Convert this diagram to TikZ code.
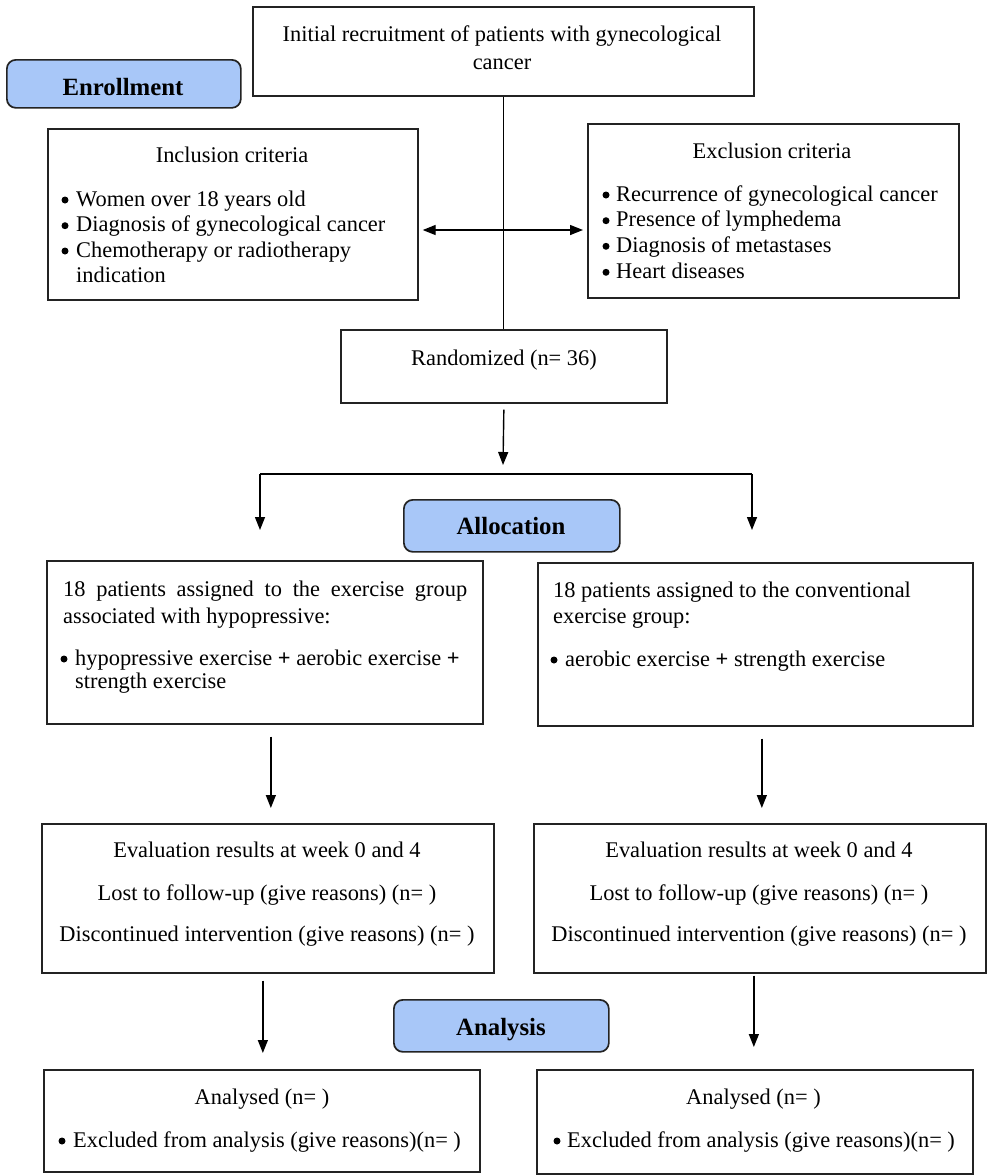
\documentclass[tikz,border=0pt]{standalone}
\usepackage{fontspec}
\setmainfont{Liberation Serif}
\usetikzlibrary{arrows.meta}
\definecolor{hdrblue}{RGB}{168,199,248}
\definecolor{edgec}{RGB}{35,35,35}
\begin{document}
\begin{tikzpicture}[x=1pt,y=-1pt,
  box/.style={draw=edgec, line width=1.7pt, rectangle, anchor=north west, inner sep=0pt},
  hdr/.style={draw=edgec, line width=1.7pt, fill=hdrblue, rounded corners=9pt, anchor=north west, inner sep=0pt},
  txt/.style={inner sep=0pt, font=\fontsize{22.4}{25.5}\selectfont},
  btxt/.style={inner sep=0pt, font=\fontsize{24.8}{26}\selectfont\bfseries},
  bul/.style={circle, fill=black, draw=none, inner sep=0pt, minimum size=7pt},
  conn/.style={line width=1.4pt, draw=black},
  arr/.style={conn, -{Triangle[length=13pt,width=10pt]}},
  darr/.style={conn, {Triangle[length=13pt,width=10pt]}-{Triangle[length=13pt,width=10pt]}},
]
\useasboundingbox[fill=white] (0,0) rectangle (990,1176);

% ---------- boxes ----------
\node[box, minimum width=501pt, minimum height=89pt] (init) at (252,6) {};
\node[hdr, minimum width=234pt, minimum height=48pt] (enroll) at (6,59) {};
\node[box, minimum width=370pt, minimum height=171pt] (incl) at (47,128) {};
\node[box, minimum width=371pt, minimum height=174pt] (excl) at (587,123) {};
\node[box, minimum width=326pt, minimum height=73pt] (rand) at (340,329) {};
\node[hdr, minimum width=216pt, minimum height=52pt] (alloc) at (403,499) {};
\node[box, minimum width=436pt, minimum height=163pt] (grpL) at (46,560) {};
\node[box, minimum width=435pt, minimum height=163pt] (grpR) at (537,562) {};
\node[box, minimum width=452pt, minimum height=149pt] (evalL) at (41,823) {};
\node[box, minimum width=452pt, minimum height=149pt] (evalR) at (533,823) {};
\node[hdr, minimum width=215pt, minimum height=52pt] (anaH) at (393,999) {};
\node[box, minimum width=436pt, minimum height=102pt] (anaL) at (43,1069) {};
\node[box, minimum width=436pt, minimum height=104pt] (anaR) at (536,1069) {};

% ---------- texts ----------
\node[txt, anchor=base] (init-a) at (502,41.7) {Initial recruitment of patients with gynecological};
\node[txt, anchor=base] (init-b) at (502,69.3) {cancer};
\node[btxt, anchor=base] (enroll-t) at (123,95) {Enrollment};

\node[txt, anchor=base] (incl-t) at (232,162.7) {Inclusion criteria};
\node[bul] (incl-b1) at (65,200) {};
\node[txt, anchor=base west] (incl-1) at (76,206) {Women over 18 years old};
\node[bul] (incl-b2) at (65,225.7) {};
\node[txt, anchor=base west] (incl-2) at (76,231.7) {Diagnosis of gynecological cancer};
\node[bul] (incl-b3) at (65,251) {};
\node[txt, anchor=base west] (incl-3) at (76,257) {Chemotherapy or radiotherapy};
\node[txt, anchor=base west] (incl-4) at (76,282.7) {indication};

\node[txt, anchor=base] (excl-t) at (772,158.3) {Exclusion criteria};
\node[bul] (excl-b1) at (606,195) {};
\node[txt, anchor=base west] (excl-1) at (616,201) {Recurrence of gynecological cancer};
\node[bul] (excl-b2) at (606,220.7) {};
\node[txt, anchor=base west] (excl-2) at (616,226.7) {Presence of lymphedema};
\node[bul] (excl-b3) at (606,246.3) {};
\node[txt, anchor=base west] (excl-3) at (616,252.3) {Diagnosis of metastases};
\node[bul] (excl-b4) at (606,272.3) {};
\node[txt, anchor=base west] (excl-4) at (616,278.3) {Heart diseases};

\node[txt, anchor=base] (rand-t) at (504,365) {Randomized (n= 36)};
\node[btxt, anchor=base] (alloc-t) at (511,534) {Allocation};

\node[txt, anchor=base west] (grpL-1) at (63,596) {\makebox[404pt][s]{18 patients assigned to the exercise group}};
\node[txt, anchor=base west] (grpL-2) at (63,623) {associated with hypopressive:};
\node[bul] (grpL-b) at (64,659) {};
\node[txt, anchor=base west] (grpL-3) at (75,665) {hypopressive exercise \textbf{+} aerobic exercise \textbf{+}};
\node[txt, anchor=base west] (grpL-4) at (75,688) {strength exercise};

\node[txt, anchor=base west] (grpR-1) at (553,597) {18 patients assigned to the conventional};
\node[txt, anchor=base west] (grpR-2) at (553,623) {exercise group:};
\node[bul] (grpR-b) at (554,660) {};
\node[txt, anchor=base west] (grpR-3) at (565,666) {aerobic exercise \textbf{+} strength exercise};

\node[txt, anchor=base] (evalL-1) at (267,857) {Evaluation results at week 0 and 4};
\node[txt, anchor=base] (evalL-2) at (267,900.5) {Lost to follow-up (give reasons) (n= )};
\node[txt, anchor=base] (evalL-3) at (267,941.7) {Discontinued intervention (give reasons) (n= )};
\node[txt, anchor=base] (evalR-1) at (759,857) {Evaluation results at week 0 and 4};
\node[txt, anchor=base] (evalR-2) at (759,900.5) {Lost to follow-up (give reasons) (n= )};
\node[txt, anchor=base] (evalR-3) at (759,941.7) {Discontinued intervention (give reasons) (n= )};

\node[btxt, anchor=base] (anaH-t) at (501,1035) {Analysis};

\node[txt, anchor=base] (anaL-1) at (262,1104) {Analysed (n= )};
\node[bul] (anaL-b) at (62,1141) {};
\node[txt, anchor=base west] (anaL-2) at (73,1147) {Excluded from analysis (give reasons)(n= )};
\node[txt, anchor=base] (anaR-1) at (753.5,1104) {Analysed (n= )};
\node[bul] (anaR-b) at (557,1141) {};
\node[txt, anchor=base west] (anaR-2) at (567,1147) {Excluded from analysis (give reasons)(n= )};

% ---------- connectors ----------
\coordinate (dy) at (502,230);
\draw[conn] (init.south) -- (init.south |- rand.north);
\draw[darr] ([xshift=4pt]incl.east |- dy) -- ([xshift=-4pt]excl.west |- dy);

\coordinate (split) at (503,474);
\coordinate (sl) at (260,474);
\coordinate (sr) at (752,474);
\coordinate (tl) at (260,530);
\coordinate (tr) at (752,530);
\draw[arr] ([yshift=-6pt]rand.south) -- ([yshift=9pt]split);
\draw[conn] (sl) -- (sr);
\draw[arr] (sl) -- (tl);
\draw[arr] (sr) -- (tr);

\draw[arr] ([xshift=6pt,yshift=-12pt]grpL.south) -- ([xshift=3pt,yshift=15pt]evalL.north);
\draw[arr] ([xshift=6.5pt,yshift=-12pt]grpR.south) -- ([xshift=2pt,yshift=15pt]evalR.north);
\draw[arr] ([xshift=-5pt,yshift=-7pt]evalL.south) -- ([xshift=1pt,yshift=16pt]anaL.north);
\draw[arr] ([xshift=-6pt,yshift=-2pt]evalR.south) -- ([xshift=-1pt,yshift=22pt]anaR.north);
\end{tikzpicture}
\end{document}
